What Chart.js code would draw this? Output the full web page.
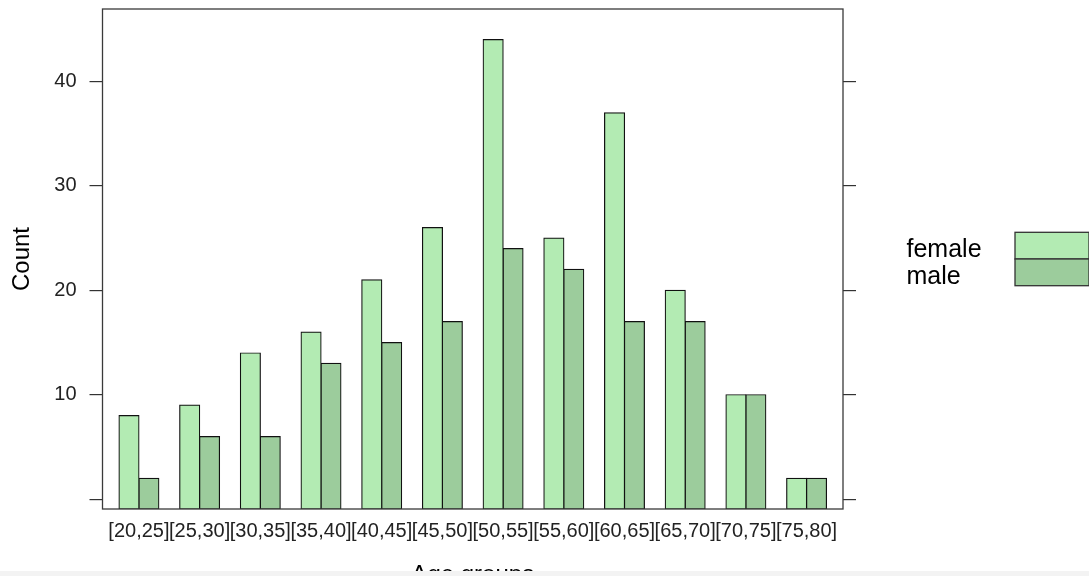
<!DOCTYPE html>
<html>
<head>
<meta charset="utf-8">
<script src="https://cdn.jsdelivr.net/npm/chart.js@4/dist/chart.umd.min.js"></script>
<style>
  html, body { margin: 0; padding: 0; background: #f3f3f3; }
  #wrap { width: 1089px; height: 571px; overflow: hidden; background: #ffffff; }
  canvas { display: block; }
</style>
</head>
<body>
<div id="wrap"><canvas id="c" width="1089" height="600"></canvas></div>
<script>
// Age-group counts by sex
const categories = ['[20,25]', '[25,30]', '[30,35]', '[35,40]', '[40,45]', '[45,50]',
                    '[50,55]', '[55,60]', '[60,65]', '[65,70]', '[70,75]', '[75,80]'];
const female = [8, 9, 14, 16, 21, 26, 44, 25, 37, 20, 10, 2];
const male   = [2, 6, 6, 13, 15, 17, 24, 22, 17, 17, 10, 2];
const yTicks = [0, 10, 20, 30, 40];
const seriesNames = ['female', 'male'];

const FONT = '"Liberation Sans", Arial, Helvetica, sans-serif';
const Y_MIN = -0.94, Y_MAX = 46.94;

const points = arr => arr.map((v, i) => ({ x: i + 1, y: v }));

// Box around the panel
const panelFrame = {
  id: 'panelFrame',
  afterDatasetsDraw(chart) {
    const { ctx, chartArea: a } = chart;
    ctx.save();
    ctx.strokeStyle = '#3a3a3a';
    ctx.lineWidth = 1.3;
    ctx.strokeRect(a.left, a.top, a.right - a.left, a.bottom - a.top);
    ctx.restore();
  }
};

// Key on the right: labels beside stacked colour boxes
const sideKey = {
  id: 'sideKey',
  afterDraw(chart) {
    const { ctx } = chart;
    const ds = chart.data.datasets;
    const boxX = 1015, boxW = 74, boxH = 26.7, top = 232.3;
    ctx.save();
    ctx.font = '25px ' + FONT;
    ctx.textAlign = 'left';
    ctx.textBaseline = 'alphabetic';
    ds.forEach((d, i) => {
      const y = top + i * boxH;
      ctx.fillStyle = d.backgroundColor;
      ctx.fillRect(boxX, y, boxW, boxH);
      ctx.strokeStyle = '#333';
      ctx.lineWidth = 1.3;
      ctx.strokeRect(boxX, y, boxW, boxH);
      ctx.fillStyle = '#000';
      ctx.fillText(d.label, 906.5, y + 24.5);
    });
    ctx.restore();
  }
};

const tickAxis = (position, width) => ({
  type: 'linear',
  position: position,
  min: Y_MIN,
  max: Y_MAX,
  afterBuildTicks: s => { s.ticks = yTicks.map(v => ({ value: v })); },
  afterFit: s => {
    s.width = width;
    s.paddingTop = 0; s.paddingBottom = 0; s.paddingLeft = 0; s.paddingRight = 0;
  },
  border: { display: false },
  grid: { drawOnChartArea: false, drawTicks: true, tickLength: 13, color: '#333', lineWidth: 1.2 },
});

const yLeft = tickAxis('left', 102.5);
yLeft.ticks = {
  padding: 13,
  color: '#222',
  font: { family: FONT, size: 20 },
  callback: v => (v === 0 ? '' : String(v))
};
yLeft.title = {
  display: true, text: 'Count', color: '#000',
  font: { family: FONT, size: 24, lineHeight: 1 },
  padding: { top: 10, bottom: 0 }
};

const yRight = tickAxis('right', 246);
yRight.ticks = { display: false };

new Chart(document.getElementById('c'), {
  type: 'bar',
  data: {
    datasets: [
      { label: seriesNames[0], data: points(female), backgroundColor: '#b3ebb3',
        borderColor: '#111', borderWidth: 1.2, borderSkipped: false, inflateAmount: 0.6, base: Y_MIN },
      { label: seriesNames[1], data: points(male), backgroundColor: '#9ccc9c',
        borderColor: '#111', borderWidth: 1.2, borderSkipped: false, inflateAmount: 0.6, base: Y_MIN }
    ]
  },
  options: {
    responsive: false,
    animation: false,
    devicePixelRatio: 1,
    layout: { padding: { top: 9, left: 0, right: 0, bottom: 0 } },
    datasets: { bar: { categoryPercentage: 0.655, barPercentage: 1.0 } },
    plugins: { legend: { display: false }, tooltip: { enabled: false } },
    scales: {
      x: {
        type: 'linear',
        position: 'bottom',
        offset: false,
        min: 0.4,
        max: 12.6,
        afterBuildTicks: s => { s.ticks = categories.map((c, i) => ({ value: i + 1 })); },
        afterFit: s => {
          s.height = 91;
          s.paddingTop = 0; s.paddingBottom = 0; s.paddingLeft = 0; s.paddingRight = 0;
        },
        border: { display: false },
        grid: { display: false, drawTicks: false, offset: false },
        ticks: {
          autoSkip: false, maxRotation: 0, minRotation: 0,
          padding: 10, color: '#222',
          font: { family: FONT, size: 20 },
          callback: v => categories[Math.round(v) - 1]
        },
        title: {
          display: true, text: 'Age groups', color: '#000',
          font: { family: FONT, size: 24, lineHeight: 1 },
          padding: { top: 0, bottom: 13 }
        }
      },
      y: yLeft,
      y2: yRight
    }
  },
  plugins: [panelFrame, sideKey]
});
</script>
</body>
</html>
